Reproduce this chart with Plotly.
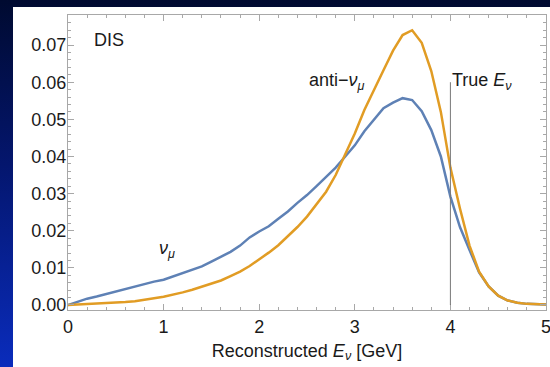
import base64
import plotly.graph_objects as go

# Reconstructed-energy distributions for DIS events at a true energy of 4 GeV
energy = [round(0.1 * i, 1) for i in range(51)]

numu = [
    0.0000, 0.0009, 0.0017, 0.0023, 0.0030, 0.0036, 0.0043, 0.0050, 0.0056, 0.0063,
    0.0068, 0.0077, 0.0087, 0.0097, 0.0104, 0.0117, 0.0130, 0.0143, 0.0160, 0.0182,
    0.0198, 0.0212, 0.0232, 0.0252, 0.0275, 0.0296, 0.0320, 0.0345, 0.0370, 0.0400,
    0.0430, 0.0468, 0.0500, 0.0530, 0.0545, 0.0557, 0.0552, 0.0522, 0.0471, 0.0400,
    0.0292, 0.0210, 0.0148, 0.0088, 0.0050, 0.0025, 0.0012, 0.0006, 0.0003, 0.0002,
    0.0001,
]

anti_numu = [
    0.0000, 0.0001, 0.0002, 0.0003, 0.0005, 0.0006, 0.0008, 0.0010, 0.0013, 0.0018,
    0.0022, 0.0027, 0.0034, 0.0041, 0.0049, 0.0057, 0.0066, 0.0078, 0.0090, 0.0105,
    0.0122, 0.0141, 0.0161, 0.0185, 0.0210, 0.0238, 0.0270, 0.0305, 0.0350, 0.0405,
    0.0462, 0.0525, 0.0580, 0.0632, 0.0685, 0.0727, 0.0740, 0.0706, 0.0630, 0.0520,
    0.0370, 0.0260, 0.0160, 0.0090, 0.0050, 0.0025, 0.0012, 0.0006, 0.0003, 0.0002,
    0.0001,
]

true_energy = 4.0
true_line_top = 0.060

x_ticks = [0, 1, 2, 3, 4, 5]
y_ticks = [0.00, 0.01, 0.02, 0.03, 0.04, 0.05, 0.06, 0.07]

W, H = 550, 367
ML, MR, MT, MB = 68, 4, 15, 57
PW, PH = W - ML - MR, H - MT - MB

BLUE = "#5E81B5"
ORANGE = "#E19C24"
FRAME = "#a8a8a8"
TEXT = "#1a1a1a"
FONT = "Liberation Sans, Arial, Helvetica, sans-serif"

# Slide background: navy gradient with a white panel holding the chart
svg = f"""<svg xmlns='http://www.w3.org/2000/svg' width='{W}' height='{H}'>
<defs><linearGradient id='g' x1='0' y1='0' x2='0' y2='1'>
<stop offset='0' stop-color='#000a30'/><stop offset='0.45' stop-color='#04166e'/>
<stop offset='1' stop-color='#0a2cbc'/></linearGradient></defs>
<rect x='0' y='0' width='{W}' height='{H}' fill='url(#g)'/>
<rect x='13' y='7' width='{W - 13}' height='{H - 7}' fill='white'/>
</svg>"""
bg_src = "data:image/svg+xml;base64," + base64.b64encode(svg.encode()).decode()

fig = go.Figure()

fig.add_trace(go.Scatter(x=energy, y=numu, mode="lines",
                         line=dict(color=BLUE, width=2.5), showlegend=False))
fig.add_trace(go.Scatter(x=energy, y=anti_numu, mode="lines",
                         line=dict(color=ORANGE, width=2.5), showlegend=False))

fig.add_shape(type="line", x0=true_energy, x1=true_energy, y0=0, y1=true_line_top,
              xref="x", yref="y", line=dict(color="#777777", width=1))

fig.add_layout_image(dict(
    source=bg_src, xref="paper", yref="paper",
    x=-ML / PW, y=1 + MT / PH, sizex=W / PW, sizey=H / PH,
    xanchor="left", yanchor="top", sizing="stretch", layer="below",
))

ann_font = dict(family=FONT, size=18, color=TEXT)
fig.add_annotation(x=0.25, y=0.0715, text="DIS", showarrow=False,
                   xanchor="left", yanchor="middle", font=ann_font)
fig.add_annotation(x=2.50, y=0.0603, text="anti−<i>ν</i><sub><i>μ</i></sub>",
                   showarrow=False, xanchor="left", yanchor="middle", font=ann_font)
fig.add_annotation(x=4.0, y=0.0603, text="True <i>E</i><sub><i>ν</i></sub>",
                   showarrow=False, xanchor="left", yanchor="middle", font=ann_font)
fig.add_annotation(x=0.93, y=0.0150, text="<i>ν</i><sub><i>μ</i></sub>",
                   showarrow=False, xanchor="left", yanchor="middle", font=ann_font)

axis_common = dict(
    showline=True, linecolor=FRAME, linewidth=1, mirror="ticks",
    ticks="inside", ticklen=6, tickcolor=FRAME, tickwidth=1,
    showgrid=False, zeroline=False, ticklabeloverflow="allow", automargin=False,
    tickfont=dict(family=FONT, size=18, color=TEXT),
)

fig.update_xaxes(
    range=[0, 5], tickvals=x_ticks, ticktext=[str(v) for v in x_ticks],
    minor=dict(ticks="inside", ticklen=3, tickcolor=FRAME, dtick=0.2, tick0=0, showgrid=False),
    title=dict(text="Reconstructed <i>E</i><sub><i>ν</i></sub> [GeV]",
               font=dict(family=FONT, size=18, color=TEXT), standoff=8),
    **axis_common,
)
fig.update_yaxes(
    range=[-0.00135, 0.0781], tickvals=y_ticks, ticktext=[f"{v:.2f}" for v in y_ticks],
    minor=dict(ticks="inside", ticklen=3, tickcolor=FRAME, dtick=0.002, tick0=0, showgrid=False),
    ticklabelstandoff=-3,
    **axis_common,
)

fig.update_layout(
    width=W, height=H,
    margin=dict(l=ML, r=MR, t=MT, b=MB, pad=0),
    paper_bgcolor="#000a30", plot_bgcolor="white",
    font=dict(family=FONT, color=TEXT),
)

fig.write_html("out.html")
